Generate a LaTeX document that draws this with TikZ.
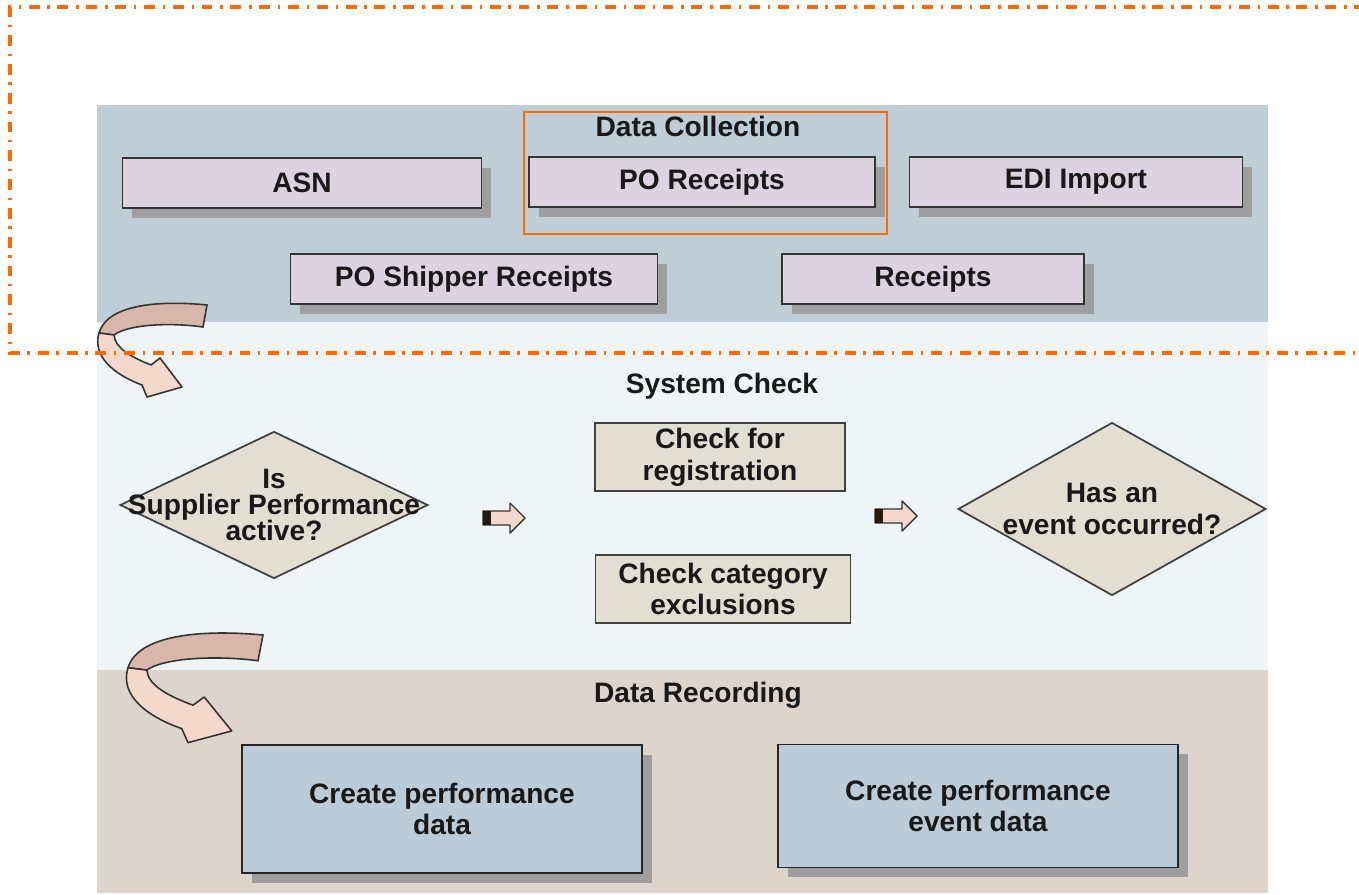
\documentclass[tikz,border=0pt]{standalone}
\usepackage{fontspec}
\setmainfont{Liberation Sans}
\usepackage{xcolor}
\usepackage{tikz}
\usetikzlibrary{shapes.geometric,shadows}

\definecolor{bandtop}{HTML}{BFCDD6}
\definecolor{bandmid}{HTML}{EFF5F7}
\definecolor{bandlow}{HTML}{DDD5CB}
\definecolor{lilac}{HTML}{DCD2E0}
\definecolor{stone}{HTML}{E2DFD2}
\definecolor{steel}{HTML}{BCCBD8}
\definecolor{salmon}{HTML}{F5D8CC}
\definecolor{salmondark}{HTML}{D8B6AA}
\definecolor{frameorange}{HTML}{FF6A00}

\tikzset{
  lbl/.style={font=\bfseries\fontsize{16}{18}\selectfont, text=black!90, align=center},
  boxshadow/.style={drop shadow={shadow xshift=5.5pt, shadow yshift=-5.5pt, fill=black!38, opacity=1}},
  collect/.style={lbl, draw=black!80, fill=lilac, line width=1pt, inner sep=0pt,
    minimum height=1cm, boxshadow},
  checkbox/.style={lbl, draw=black!75, fill=stone, line width=1pt, inner sep=0pt,
    minimum height=1.36cm},
  recordbox/.style={lbl, draw=black!85, fill=steel, line width=1pt, inner sep=0pt,
    minimum width=8cm, boxshadow},
  decision/.style={diamond, draw=black!75, fill=stone, line width=1pt, inner sep=0pt},
  swoosh/.pic={
    \filldraw[fill=salmondark, draw=black!80, line width=0.9pt]
      (0,0) .. controls (-50,-5) and (-100,0) .. (-108,28)
      -- (-93,30) .. controls (-80,20) and (-40,17) .. (-4,22) -- cycle;
    \filldraw[fill=salmon, draw=black!80, line width=0.9pt, line join=round]
      (-108,28) .. controls (-115,52) and (-92,70) .. (-65,80)
      -- (-60,92) -- (-25,82) -- (-47,53) -- (-56,60)
      .. controls (-76,52) and (-92,43) .. (-93,30) -- cycle;
  },
  nudge/.pic={
    \filldraw[fill=salmon, draw=black!80, line width=0.8pt, line join=round]
      (0,-7) -- (27,-7) -- (27,-15) -- (42,0) -- (27,15) -- (27,7) -- (0,7) -- cycle;
    \fill[black!80!brown] (0,-7) rectangle (8,7);
  }
}

\begin{document}
\begin{tikzpicture}[x=0.02cm, y=-0.02cm]
\useasboundingbox (0,0) rectangle (1359,895);

% bands
\fill[bandtop] (97,105) rectangle (1268,322);
\fill[bandmid] (97,322) rectangle (1268,670);
\fill[bandlow] (97,670) rectangle (1268,893);

% data collection
\node[lbl] (collecttitle) at (698,126) {Data Collection};
\node[collect, minimum width=7.18cm] (asn) at (302,183) {ASN};
\node[collect, minimum width=6.92cm] (poreceipts) at (702,182) {PO Receipts};
\node[collect, minimum width=6.66cm] (edi) at (1076,182) {EDI Import};
\node[collect, minimum width=7.34cm] (poshipper) at (474,279) {PO Shipper Receipts};
\node[collect, minimum width=6.04cm] (receipts) at (933,279) {Receipts};
\draw[frameorange, line width=1.2pt] (524,112) rectangle (887,234);

% system check
\node[lbl] (checktitle) at (722,386) {System Check};
\node[decision, minimum width=6.16cm, minimum height=2.94cm] (active) at (274,505) {};
\node[lbl, font=\bfseries\fontsize{16}{15}\selectfont] (activetext) at (active) {Is\\Supplier Performance\\active?};
\node[checkbox, minimum width=5cm] (registration) at (720,457) {Check for\\registration};
\node[checkbox, minimum width=5.1cm] (exclusions) at (723,589) {Check category\\exclusions};
\node[decision, minimum width=6.16cm, minimum height=3.46cm] (event) at (1112,509) {};
\node[lbl] (eventtext) at (event) {Has an\\event occurred?};
\pic at (483,518) {nudge};
\pic at (875,516) {nudge};

% data recording
\node[lbl] (recordtitle) at (698,695) {Data Recording};
\node[recordbox, minimum height=2.56cm] (perfdata) at (442,809) {Create performance\\data};
\node[recordbox, minimum height=2.46cm] (eventdata) at (978,806) {Create performance\\event data};

% curved arrows
\pic at (207,305) {swoosh};
\pic[xscale=1.25, yscale=1.17] at (263,635) {swoosh};

% dash-dot frame
\draw[frameorange, line width=2.1pt, dash pattern=on 6.2pt off 4.3pt on 1.4pt off 4.5pt]
  (1365,7) -- (10,7) -- (10,353) -- (1365,353);
\end{tikzpicture}
\end{document}
